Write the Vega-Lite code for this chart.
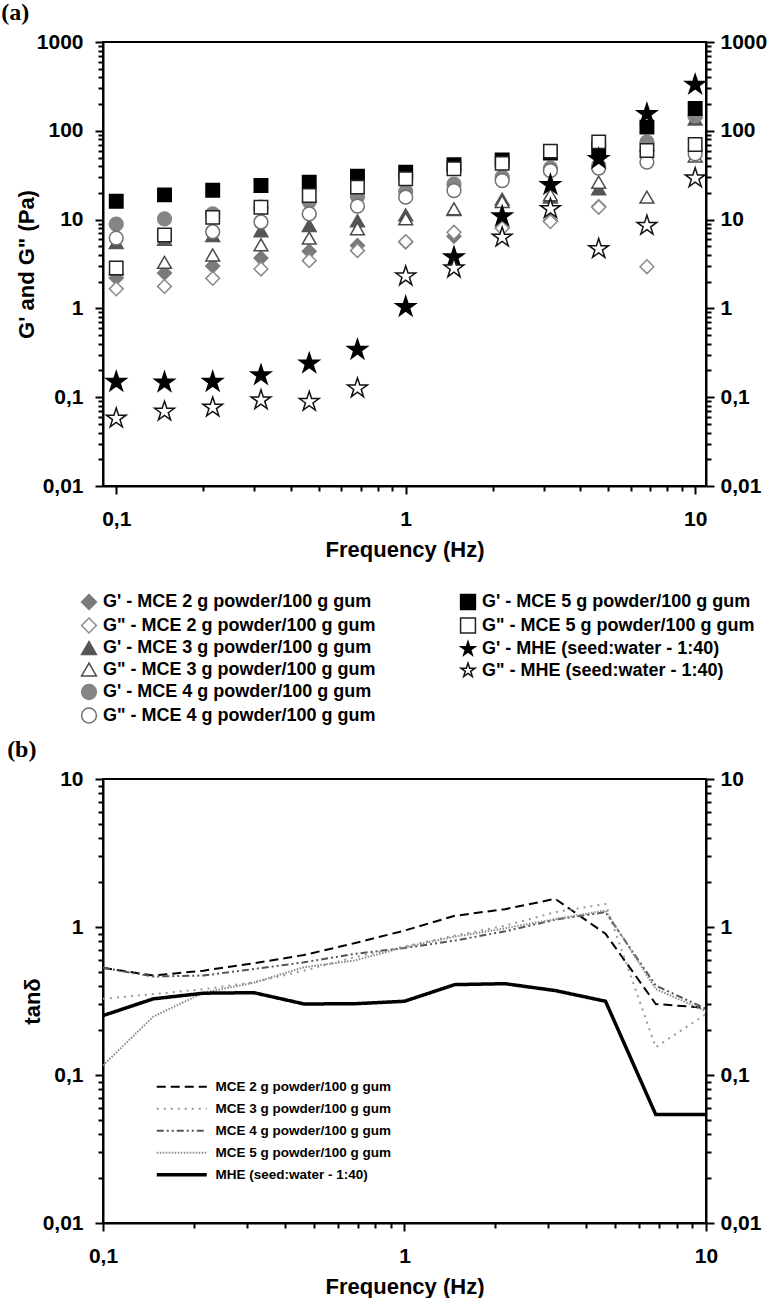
{
  "$schema": "https://vega.github.io/schema/vega-lite/v6.json",
  "padding": {"left": 0, "top": 0, "right": 0, "bottom": 0},
  "background": "white",
  "spacing": 10,
  "config": {
    "font": "Liberation Sans",
    "view": {"stroke": "black", "strokeWidth": 2},
    "axis": {
      "domainColor": "black", "domainWidth": 2, "tickColor": "black", "tickWidth": 2,
      "labelFont": "Liberation Sans", "labelFontWeight": "bold", "labelFontSize": 21, "labelColor": "black",
      "titleFont": "Liberation Sans", "titleFontWeight": "bold", "titleFontSize": 22, "titleColor": "black",
      "grid": false, "labelOverlap": false, "labelFlush": false, "labelBound": false
    },
    "title": {"font": "Liberation Serif", "fontSize": 24, "fontWeight": "bold", "color": "black", "anchor": "start", "frame": "bounds"}
  },
  "datasets": {
    "modA": [
      {"f": 0.1, "s": "G' - MCE 2 g powder/100 g gum", "v": 2.2},
      {"f": 0.1468, "s": "G' - MCE 2 g powder/100 g gum", "v": 2.5},
      {"f": 0.2154, "s": "G' - MCE 2 g powder/100 g gum", "v": 3.0},
      {"f": 0.3162, "s": "G' - MCE 2 g powder/100 g gum", "v": 3.7},
      {"f": 0.4642, "s": "G' - MCE 2 g powder/100 g gum", "v": 4.4},
      {"f": 0.6813, "s": "G' - MCE 2 g powder/100 g gum", "v": 5.1},
      {"f": 1, "s": "G' - MCE 2 g powder/100 g gum", "v": 5.6},
      {"f": 1.468, "s": "G' - MCE 2 g powder/100 g gum", "v": 6.5},
      {"f": 2.154, "s": "G' - MCE 2 g powder/100 g gum", "v": 8.2},
      {"f": 3.162, "s": "G' - MCE 2 g powder/100 g gum", "v": 9.7},
      {"f": 4.642, "s": "G' - MCE 2 g powder/100 g gum", "v": 14},
      {"f": 6.813, "s": "G' - MCE 2 g powder/100 g gum", "v": 60},
      {"f": 10, "s": "G' - MCE 2 g powder/100 g gum", "v": 140},
      {"f": 0.1, "s": "G\" - MCE 2 g powder/100 g gum", "v": 1.66},
      {"f": 0.1468, "s": "G\" - MCE 2 g powder/100 g gum", "v": 1.77},
      {"f": 0.2154, "s": "G\" - MCE 2 g powder/100 g gum", "v": 2.18},
      {"f": 0.3162, "s": "G\" - MCE 2 g powder/100 g gum", "v": 2.78},
      {"f": 0.4642, "s": "G\" - MCE 2 g powder/100 g gum", "v": 3.45},
      {"f": 0.6813, "s": "G\" - MCE 2 g powder/100 g gum", "v": 4.47},
      {"f": 1, "s": "G\" - MCE 2 g powder/100 g gum", "v": 5.65},
      {"f": 1.468, "s": "G\" - MCE 2 g powder/100 g gum", "v": 7.2},
      {"f": 2.154, "s": "G\" - MCE 2 g powder/100 g gum", "v": 8.0},
      {"f": 3.162, "s": "G\" - MCE 2 g powder/100 g gum", "v": 9.5},
      {"f": 4.642, "s": "G\" - MCE 2 g powder/100 g gum", "v": 13.8},
      {"f": 6.813, "s": "G\" - MCE 2 g powder/100 g gum", "v": 2.95},
      {"f": 10, "s": "G\" - MCE 2 g powder/100 g gum", "v": 60},
      {"f": 0.1, "s": "G' - MCE 3 g powder/100 g gum", "v": 5.5},
      {"f": 0.1468, "s": "G' - MCE 3 g powder/100 g gum", "v": 6.0},
      {"f": 0.2154, "s": "G' - MCE 3 g powder/100 g gum", "v": 6.6},
      {"f": 0.3162, "s": "G' - MCE 3 g powder/100 g gum", "v": 7.5},
      {"f": 0.4642, "s": "G' - MCE 3 g powder/100 g gum", "v": 8.6},
      {"f": 0.6813, "s": "G' - MCE 3 g powder/100 g gum", "v": 9.7},
      {"f": 1, "s": "G' - MCE 3 g powder/100 g gum", "v": 11.3},
      {"f": 1.468, "s": "G' - MCE 3 g powder/100 g gum", "v": 13},
      {"f": 2.154, "s": "G' - MCE 3 g powder/100 g gum", "v": 17},
      {"f": 3.162, "s": "G' - MCE 3 g powder/100 g gum", "v": 18},
      {"f": 4.642, "s": "G' - MCE 3 g powder/100 g gum", "v": 22.2},
      {"f": 6.813, "s": "G' - MCE 3 g powder/100 g gum", "v": 70},
      {"f": 10, "s": "G' - MCE 3 g powder/100 g gum", "v": 136},
      {"f": 0.1, "s": "G\" - MCE 3 g powder/100 g gum", "v": 2.8},
      {"f": 0.1468, "s": "G\" - MCE 3 g powder/100 g gum", "v": 3.3},
      {"f": 0.2154, "s": "G\" - MCE 3 g powder/100 g gum", "v": 4.0},
      {"f": 0.3162, "s": "G\" - MCE 3 g powder/100 g gum", "v": 5.2},
      {"f": 0.4642, "s": "G\" - MCE 3 g powder/100 g gum", "v": 6.2},
      {"f": 0.6813, "s": "G\" - MCE 3 g powder/100 g gum", "v": 7.9},
      {"f": 1, "s": "G\" - MCE 3 g powder/100 g gum", "v": 10.2},
      {"f": 1.468, "s": "G\" - MCE 3 g powder/100 g gum", "v": 13.2},
      {"f": 2.154, "s": "G\" - MCE 3 g powder/100 g gum", "v": 16},
      {"f": 3.162, "s": "G\" - MCE 3 g powder/100 g gum", "v": 19},
      {"f": 4.642, "s": "G\" - MCE 3 g powder/100 g gum", "v": 26.4},
      {"f": 6.813, "s": "G\" - MCE 3 g powder/100 g gum", "v": 17.9},
      {"f": 10, "s": "G\" - MCE 3 g powder/100 g gum", "v": 52},
      {"f": 0.1, "s": "G' - MCE 4 g powder/100 g gum", "v": 8.9},
      {"f": 0.1468, "s": "G' - MCE 4 g powder/100 g gum", "v": 10.2},
      {"f": 0.2154, "s": "G' - MCE 4 g powder/100 g gum", "v": 11.6},
      {"f": 0.3162, "s": "G' - MCE 4 g powder/100 g gum", "v": 13.8},
      {"f": 0.4642, "s": "G' - MCE 4 g powder/100 g gum", "v": 16.0},
      {"f": 0.6813, "s": "G' - MCE 4 g powder/100 g gum", "v": 18.2},
      {"f": 1, "s": "G' - MCE 4 g powder/100 g gum", "v": 20.7},
      {"f": 1.468, "s": "G' - MCE 4 g powder/100 g gum", "v": 25},
      {"f": 2.154, "s": "G' - MCE 4 g powder/100 g gum", "v": 30},
      {"f": 3.162, "s": "G' - MCE 4 g powder/100 g gum", "v": 38},
      {"f": 4.642, "s": "G' - MCE 4 g powder/100 g gum", "v": 40.6},
      {"f": 6.813, "s": "G' - MCE 4 g powder/100 g gum", "v": 74.6},
      {"f": 10, "s": "G' - MCE 4 g powder/100 g gum", "v": 147},
      {"f": 0.1, "s": "G\" - MCE 4 g powder/100 g gum", "v": 6.2},
      {"f": 0.1468, "s": "G\" - MCE 4 g powder/100 g gum", "v": 6.6},
      {"f": 0.2154, "s": "G\" - MCE 4 g powder/100 g gum", "v": 7.3},
      {"f": 0.3162, "s": "G\" - MCE 4 g powder/100 g gum", "v": 9.4},
      {"f": 0.4642, "s": "G\" - MCE 4 g powder/100 g gum", "v": 11.6},
      {"f": 0.6813, "s": "G\" - MCE 4 g powder/100 g gum", "v": 14.2},
      {"f": 1, "s": "G\" - MCE 4 g powder/100 g gum", "v": 17.9},
      {"f": 1.468, "s": "G\" - MCE 4 g powder/100 g gum", "v": 21.2},
      {"f": 2.154, "s": "G\" - MCE 4 g powder/100 g gum", "v": 27.5},
      {"f": 3.162, "s": "G\" - MCE 4 g powder/100 g gum", "v": 35.6},
      {"f": 4.642, "s": "G\" - MCE 4 g powder/100 g gum", "v": 38},
      {"f": 6.813, "s": "G\" - MCE 4 g powder/100 g gum", "v": 44.4},
      {"f": 10, "s": "G\" - MCE 4 g powder/100 g gum", "v": 55}
    ],
    "modB": [
      {"f": 0.1, "s": "G' - MCE 5 g powder/100 g gum", "v": 16.1},
      {"f": 0.1468, "s": "G' - MCE 5 g powder/100 g gum", "v": 19},
      {"f": 0.2154, "s": "G' - MCE 5 g powder/100 g gum", "v": 21.4},
      {"f": 0.3162, "s": "G' - MCE 5 g powder/100 g gum", "v": 24.2},
      {"f": 0.4642, "s": "G' - MCE 5 g powder/100 g gum", "v": 26.4},
      {"f": 0.6813, "s": "G' - MCE 5 g powder/100 g gum", "v": 30.8},
      {"f": 1, "s": "G' - MCE 5 g powder/100 g gum", "v": 34.2},
      {"f": 1.468, "s": "G' - MCE 5 g powder/100 g gum", "v": 41.4},
      {"f": 2.154, "s": "G' - MCE 5 g powder/100 g gum", "v": 47.1},
      {"f": 3.162, "s": "G' - MCE 5 g powder/100 g gum", "v": 56},
      {"f": 4.642, "s": "G' - MCE 5 g powder/100 g gum", "v": 63.8},
      {"f": 6.813, "s": "G' - MCE 5 g powder/100 g gum", "v": 110},
      {"f": 10, "s": "G' - MCE 5 g powder/100 g gum", "v": 178},
      {"f": 0.1, "s": "G\" - MCE 5 g powder/100 g gum", "v": 2.85},
      {"f": 0.1468, "s": "G\" - MCE 5 g powder/100 g gum", "v": 6.7},
      {"f": 0.2154, "s": "G\" - MCE 5 g powder/100 g gum", "v": 10.6},
      {"f": 0.3162, "s": "G\" - MCE 5 g powder/100 g gum", "v": 13.8},
      {"f": 0.4642, "s": "G\" - MCE 5 g powder/100 g gum", "v": 18.7},
      {"f": 0.6813, "s": "G\" - MCE 5 g powder/100 g gum", "v": 23.2},
      {"f": 1, "s": "G\" - MCE 5 g powder/100 g gum", "v": 28.8},
      {"f": 1.468, "s": "G\" - MCE 5 g powder/100 g gum", "v": 37.3},
      {"f": 2.154, "s": "G\" - MCE 5 g powder/100 g gum", "v": 43},
      {"f": 3.162, "s": "G\" - MCE 5 g powder/100 g gum", "v": 59},
      {"f": 4.642, "s": "G\" - MCE 5 g powder/100 g gum", "v": 75},
      {"f": 6.813, "s": "G\" - MCE 5 g powder/100 g gum", "v": 60},
      {"f": 10, "s": "G\" - MCE 5 g powder/100 g gum", "v": 70},
      {"f": 0.1, "s": "G' - MHE (seed:water - 1:40)", "v": 0.149},
      {"f": 0.1468, "s": "G' - MHE (seed:water - 1:40)", "v": 0.147},
      {"f": 0.2154, "s": "G' - MHE (seed:water - 1:40)", "v": 0.149},
      {"f": 0.3162, "s": "G' - MHE (seed:water - 1:40)", "v": 0.177},
      {"f": 0.4642, "s": "G' - MHE (seed:water - 1:40)", "v": 0.24},
      {"f": 0.6813, "s": "G' - MHE (seed:water - 1:40)", "v": 0.342},
      {"f": 1, "s": "G' - MHE (seed:water - 1:40)", "v": 1.04},
      {"f": 1.468, "s": "G' - MHE (seed:water - 1:40)", "v": 3.77},
      {"f": 2.154, "s": "G' - MHE (seed:water - 1:40)", "v": 10.9},
      {"f": 3.162, "s": "G' - MHE (seed:water - 1:40)", "v": 24.6},
      {"f": 4.642, "s": "G' - MHE (seed:water - 1:40)", "v": 48.3},
      {"f": 6.813, "s": "G' - MHE (seed:water - 1:40)", "v": 155},
      {"f": 10, "s": "G' - MHE (seed:water - 1:40)", "v": 330},
      {"f": 0.1, "s": "G\" - MHE (seed:water - 1:40)", "v": 0.0577},
      {"f": 0.1468, "s": "G\" - MHE (seed:water - 1:40)", "v": 0.069},
      {"f": 0.2154, "s": "G\" - MHE (seed:water - 1:40)", "v": 0.0767},
      {"f": 0.3162, "s": "G\" - MHE (seed:water - 1:40)", "v": 0.0927},
      {"f": 0.4642, "s": "G\" - MHE (seed:water - 1:40)", "v": 0.089},
      {"f": 0.6813, "s": "G\" - MHE (seed:water - 1:40)", "v": 0.126},
      {"f": 1, "s": "G\" - MHE (seed:water - 1:40)", "v": 2.3},
      {"f": 1.468, "s": "G\" - MHE (seed:water - 1:40)", "v": 2.83},
      {"f": 2.154, "s": "G\" - MHE (seed:water - 1:40)", "v": 6.3},
      {"f": 3.162, "s": "G\" - MHE (seed:water - 1:40)", "v": 13.2},
      {"f": 4.642, "s": "G\" - MHE (seed:water - 1:40)", "v": 4.68},
      {"f": 6.813, "s": "G\" - MHE (seed:water - 1:40)", "v": 8.55},
      {"f": 10, "s": "G\" - MHE (seed:water - 1:40)", "v": 29.3}
    ],
    "tand": [
      {"f": 0.1, "s": "MCE 2 g powder/100 g gum", "v": 0.53},
      {"f": 0.1468, "s": "MCE 2 g powder/100 g gum", "v": 0.47},
      {"f": 0.2154, "s": "MCE 2 g powder/100 g gum", "v": 0.507},
      {"f": 0.3162, "s": "MCE 2 g powder/100 g gum", "v": 0.569},
      {"f": 0.4642, "s": "MCE 2 g powder/100 g gum", "v": 0.647},
      {"f": 0.6813, "s": "MCE 2 g powder/100 g gum", "v": 0.776},
      {"f": 1, "s": "MCE 2 g powder/100 g gum", "v": 0.946},
      {"f": 1.468, "s": "MCE 2 g powder/100 g gum", "v": 1.19},
      {"f": 2.154, "s": "MCE 2 g powder/100 g gum", "v": 1.32},
      {"f": 3.162, "s": "MCE 2 g powder/100 g gum", "v": 1.55},
      {"f": 4.642, "s": "MCE 2 g powder/100 g gum", "v": 0.9},
      {"f": 6.813, "s": "MCE 2 g powder/100 g gum", "v": 0.302},
      {"f": 10, "s": "MCE 2 g powder/100 g gum", "v": 0.284},
      {"f": 0.1, "s": "MCE 3 g powder/100 g gum", "v": 0.327},
      {"f": 0.1468, "s": "MCE 3 g powder/100 g gum", "v": 0.352},
      {"f": 0.2154, "s": "MCE 3 g powder/100 g gum", "v": 0.38},
      {"f": 0.3162, "s": "MCE 3 g powder/100 g gum", "v": 0.423},
      {"f": 0.4642, "s": "MCE 3 g powder/100 g gum", "v": 0.507},
      {"f": 0.6813, "s": "MCE 3 g powder/100 g gum", "v": 0.624},
      {"f": 1, "s": "MCE 3 g powder/100 g gum", "v": 0.738},
      {"f": 1.468, "s": "MCE 3 g powder/100 g gum", "v": 0.875},
      {"f": 2.154, "s": "MCE 3 g powder/100 g gum", "v": 1.02},
      {"f": 3.162, "s": "MCE 3 g powder/100 g gum", "v": 1.26},
      {"f": 4.642, "s": "MCE 3 g powder/100 g gum", "v": 1.43},
      {"f": 6.813, "s": "MCE 3 g powder/100 g gum", "v": 0.154},
      {"f": 10, "s": "MCE 3 g powder/100 g gum", "v": 0.258},
      {"f": 0.1, "s": "MCE 4 g powder/100 g gum", "v": 0.53},
      {"f": 0.1468, "s": "MCE 4 g powder/100 g gum", "v": 0.463},
      {"f": 0.2154, "s": "MCE 4 g powder/100 g gum", "v": 0.47},
      {"f": 0.3162, "s": "MCE 4 g powder/100 g gum", "v": 0.52},
      {"f": 0.4642, "s": "MCE 4 g powder/100 g gum", "v": 0.577},
      {"f": 0.6813, "s": "MCE 4 g powder/100 g gum", "v": 0.658},
      {"f": 1, "s": "MCE 4 g powder/100 g gum", "v": 0.721},
      {"f": 1.468, "s": "MCE 4 g powder/100 g gum", "v": 0.809},
      {"f": 2.154, "s": "MCE 4 g powder/100 g gum", "v": 0.935},
      {"f": 3.162, "s": "MCE 4 g powder/100 g gum", "v": 1.12},
      {"f": 4.642, "s": "MCE 4 g powder/100 g gum", "v": 1.26},
      {"f": 6.813, "s": "MCE 4 g powder/100 g gum", "v": 0.402},
      {"f": 10, "s": "MCE 4 g powder/100 g gum", "v": 0.28},
      {"f": 0.1, "s": "MCE 5 g powder/100 g gum", "v": 0.116},
      {"f": 0.1468, "s": "MCE 5 g powder/100 g gum", "v": 0.248},
      {"f": 0.2154, "s": "MCE 5 g powder/100 g gum", "v": 0.36},
      {"f": 0.3162, "s": "MCE 5 g powder/100 g gum", "v": 0.42},
      {"f": 0.4642, "s": "MCE 5 g powder/100 g gum", "v": 0.535},
      {"f": 0.6813, "s": "MCE 5 g powder/100 g gum", "v": 0.593},
      {"f": 1, "s": "MCE 5 g powder/100 g gum", "v": 0.73},
      {"f": 1.468, "s": "MCE 5 g powder/100 g gum", "v": 0.86},
      {"f": 2.154, "s": "MCE 5 g powder/100 g gum", "v": 0.98},
      {"f": 3.162, "s": "MCE 5 g powder/100 g gum", "v": 1.13},
      {"f": 4.642, "s": "MCE 5 g powder/100 g gum", "v": 1.29},
      {"f": 6.813, "s": "MCE 5 g powder/100 g gum", "v": 0.381},
      {"f": 10, "s": "MCE 5 g powder/100 g gum", "v": 0.27},
      {"f": 0.1, "s": "MHE (seed:water - 1:40)", "v": 0.252},
      {"f": 0.1468, "s": "MHE (seed:water - 1:40)", "v": 0.327},
      {"f": 0.2154, "s": "MHE (seed:water - 1:40)", "v": 0.357},
      {"f": 0.3162, "s": "MHE (seed:water - 1:40)", "v": 0.36},
      {"f": 0.4642, "s": "MHE (seed:water - 1:40)", "v": 0.302},
      {"f": 0.6813, "s": "MHE (seed:water - 1:40)", "v": 0.303},
      {"f": 1, "s": "MHE (seed:water - 1:40)", "v": 0.315},
      {"f": 1.468, "s": "MHE (seed:water - 1:40)", "v": 0.408},
      {"f": 2.154, "s": "MHE (seed:water - 1:40)", "v": 0.414},
      {"f": 3.162, "s": "MHE (seed:water - 1:40)", "v": 0.372},
      {"f": 4.642, "s": "MHE (seed:water - 1:40)", "v": 0.315},
      {"f": 6.813, "s": "MHE (seed:water - 1:40)", "v": 0.054},
      {"f": 10, "s": "MHE (seed:water - 1:40)", "v": 0.054}
    ]
  },
  "resolve": {"scale": {"shape": "independent", "fill": "independent", "stroke": "independent", "color": "independent", "strokeDash": "independent"}},
  "vconcat": [
    {
      "width": 603, "height": 444,
      "title": {"text": "(a)", "offset": 6, "dx": -14},
      "layer": [
        {
          "data": {"name": "modA"},
          "mark": {"type": "point", "filled": true, "strokeWidth": 1.5, "opacity": 1, "size": 190},
          "encoding": {
            "x": {"field": "f", "type": "quantitative", "scale": {"type": "log", "domain": [0.09, 10.9], "nice": false},
              "axis": {"title": "Frequency (Hz)", "values": [0.1,0.2,0.3,0.4,0.5,0.6,0.7,0.8,0.9,1,2,3,4,5,6,7,8,9,10],
                "labelExpr": "datum.value == 0.1 ? '0,1' : datum.value == 1 ? '1' : datum.value == 10 ? '10' : ''",
                "tickSize": {"condition": {"test": "datum.value == 0.1 || datum.value == 1 || datum.value == 10", "value": 8}, "value": 5},
                "labelPadding": 14, "titlePadding": 10}},
            "y": {"field": "v", "type": "quantitative", "scale": {"type": "log", "domain": [0.01, 1000], "nice": false},
              "axis": {"orient": "left", "title": "G' and G\" (Pa)",
                "values": [0.01,0.02,0.03,0.04,0.05,0.06,0.07,0.08,0.09,0.1,0.2,0.3,0.4,0.5,0.6,0.7,0.8,0.9,1,2,3,4,5,6,7,8,9,10,20,30,40,50,60,70,80,90,100,200,300,400,500,600,700,800,900,1000],
                "labelExpr": "datum.value == 0.01 ? '0,01' : datum.value == 0.1 ? '0,1' : (datum.value == 1 || datum.value == 10 || datum.value == 100 || datum.value == 1000) ? '' + datum.value : ''",
                "tickSize": {"condition": {"test": "datum.value == 0.01 || datum.value == 0.1 || datum.value == 1 || datum.value == 10 || datum.value == 100 || datum.value == 1000", "value": 8}, "value": 5},
                "labelPadding": 12, "titlePadding": -2}},
            "shape": {"field": "s", "type": "nominal",
              "scale": {"domain": ["G' - MCE 2 g powder/100 g gum", "G\" - MCE 2 g powder/100 g gum", "G' - MCE 3 g powder/100 g gum", "G\" - MCE 3 g powder/100 g gum", "G' - MCE 4 g powder/100 g gum", "G\" - MCE 4 g powder/100 g gum"],
                "range": ["diamond", "diamond", "triangle-up", "triangle-up", "circle", "circle"]},
              "legend": {"orient": "none", "legendX": -23, "legendY": 551, "title": null, "labelFont": "Liberation Sans", "labelFontWeight": "bold", "labelFontSize": 18, "labelColor": "black", "symbolSize": 220, "symbolStrokeWidth": 1.5, "rowPadding": 1.5, "labelOffset": 5, "labelLimit": 500, "padding": 0}},
            "fill": {"field": "s", "type": "nominal",
              "scale": {"domain": ["G' - MCE 2 g powder/100 g gum", "G\" - MCE 2 g powder/100 g gum", "G' - MCE 3 g powder/100 g gum", "G\" - MCE 3 g powder/100 g gum", "G' - MCE 4 g powder/100 g gum", "G\" - MCE 4 g powder/100 g gum"],
                "range": ["#7a7a7a", "#ffffff", "#555555", "#ffffff", "#858585", "#ffffff"]},
              "legend": {"orient": "none", "legendX": -23, "legendY": 551, "title": null, "labelFont": "Liberation Sans", "labelFontWeight": "bold", "labelFontSize": 18, "labelColor": "black", "symbolSize": 220, "symbolStrokeWidth": 1.5, "rowPadding": 1.5, "labelOffset": 5, "labelLimit": 500, "padding": 0}},
            "stroke": {"field": "s", "type": "nominal",
              "scale": {"domain": ["G' - MCE 2 g powder/100 g gum", "G\" - MCE 2 g powder/100 g gum", "G' - MCE 3 g powder/100 g gum", "G\" - MCE 3 g powder/100 g gum", "G' - MCE 4 g powder/100 g gum", "G\" - MCE 4 g powder/100 g gum"],
                "range": ["#7a7a7a", "#8a8a8a", "#555555", "#4a4a4a", "#858585", "#707070"]},
              "legend": {"orient": "none", "legendX": -23, "legendY": 551, "title": null, "labelFont": "Liberation Sans", "labelFontWeight": "bold", "labelFontSize": 18, "labelColor": "black", "symbolSize": 220, "symbolStrokeWidth": 1.5, "rowPadding": 1.5, "labelOffset": 5, "labelLimit": 500, "padding": 0}}
          }
        },
        {
          "data": {"name": "modB"},
          "mark": {"type": "point", "filled": true, "strokeWidth": 1.5, "opacity": 1},
          "encoding": {
            "x": {"field": "f", "type": "quantitative", "scale": {"type": "log", "domain": [0.09, 10.9], "nice": false},
              "axis": {"title": "Frequency (Hz)", "values": [0.1,0.2,0.3,0.4,0.5,0.6,0.7,0.8,0.9,1,2,3,4,5,6,7,8,9,10],
                "labelExpr": "datum.value == 0.1 ? '0,1' : datum.value == 1 ? '1' : datum.value == 10 ? '10' : ''",
                "tickSize": {"condition": {"test": "datum.value == 0.1 || datum.value == 1 || datum.value == 10", "value": 8}, "value": 5},
                "labelPadding": 14, "titlePadding": 10}},
            "y": {"field": "v", "type": "quantitative", "scale": {"type": "log", "domain": [0.01, 1000], "nice": false},
              "axis": {"orient": "right", "title": null,
                "values": [0.01,0.02,0.03,0.04,0.05,0.06,0.07,0.08,0.09,0.1,0.2,0.3,0.4,0.5,0.6,0.7,0.8,0.9,1,2,3,4,5,6,7,8,9,10,20,30,40,50,60,70,80,90,100,200,300,400,500,600,700,800,900,1000],
                "labelExpr": "datum.value == 0.01 ? '0,01' : datum.value == 0.1 ? '0,1' : (datum.value == 1 || datum.value == 10 || datum.value == 100 || datum.value == 1000) ? '' + datum.value : ''",
                "tickSize": {"condition": {"test": "datum.value == 0.01 || datum.value == 0.1 || datum.value == 1 || datum.value == 10 || datum.value == 100 || datum.value == 1000", "value": 8}, "value": 5},
                "labelPadding": 6}},
            "size": {"condition": {"test": "indexof(datum.s, 'MHE') >= 0", "value": 430}, "value": 180},
            "shape": {"field": "s", "type": "nominal",
              "scale": {"domain": ["G' - MCE 5 g powder/100 g gum", "G\" - MCE 5 g powder/100 g gum", "G' - MHE (seed:water - 1:40)", "G\" - MHE (seed:water - 1:40)"],
                "range": ["square", "square", "M0,-1L0.225,-0.309L0.951,-0.309L0.363,0.118L0.588,0.809L0,0.382L-0.588,0.809L-0.363,0.118L-0.951,-0.309L-0.225,-0.309Z", "M0,-1L0.225,-0.309L0.951,-0.309L0.363,0.118L0.588,0.809L0,0.382L-0.588,0.809L-0.363,0.118L-0.951,-0.309L-0.225,-0.309Z"]},
              "legend": {"orient": "none", "legendX": 356, "legendY": 551, "title": null, "labelFont": "Liberation Sans", "labelFontWeight": "bold", "labelFontSize": 18, "labelColor": "black", "symbolSize": 220, "symbolStrokeWidth": 1.5, "rowPadding": 1.5, "labelOffset": 5, "labelLimit": 500, "padding": 0}},
            "fill": {"field": "s", "type": "nominal",
              "scale": {"domain": ["G' - MCE 5 g powder/100 g gum", "G\" - MCE 5 g powder/100 g gum", "G' - MHE (seed:water - 1:40)", "G\" - MHE (seed:water - 1:40)"],
                "range": ["#000000", "#ffffff", "#000000", "#ffffff"]},
              "legend": {"orient": "none", "legendX": 356, "legendY": 551, "title": null, "labelFont": "Liberation Sans", "labelFontWeight": "bold", "labelFontSize": 18, "labelColor": "black", "symbolSize": 220, "symbolStrokeWidth": 1.5, "rowPadding": 1.5, "labelOffset": 5, "labelLimit": 500, "padding": 0}},
            "stroke": {"field": "s", "type": "nominal",
              "scale": {"domain": ["G' - MCE 5 g powder/100 g gum", "G\" - MCE 5 g powder/100 g gum", "G' - MHE (seed:water - 1:40)", "G\" - MHE (seed:water - 1:40)"],
                "range": ["#000000", "#222222", "#000000", "#111111"]},
              "legend": {"orient": "none", "legendX": 356, "legendY": 551, "title": null, "labelFont": "Liberation Sans", "labelFontWeight": "bold", "labelFontSize": 18, "labelColor": "black", "symbolSize": 220, "symbolStrokeWidth": 1.5, "rowPadding": 1.5, "labelOffset": 5, "labelLimit": 500, "padding": 0}}
          }
        }
      ],
      "resolve": {"scale": {"shape": "independent", "fill": "independent", "stroke": "independent"}, "axis": {"y": "independent"}}
    },
    {
      "width": 603, "height": 444,
      "title": {"text": "(b)", "offset": 6, "dx": -14},
      "data": {"name": "tand"},
      "layer": [
        {
          "mark": {"type": "line"},
          "encoding": {
            "x": {"field": "f", "type": "quantitative", "scale": {"type": "log", "domain": [0.1, 10], "nice": false},
              "axis": {"title": "Frequency (Hz)", "values": [0.1,0.2,0.3,0.4,0.5,0.6,0.7,0.8,0.9,1,2,3,4,5,6,7,8,9,10],
                "labelExpr": "datum.value == 0.1 ? '0,1' : datum.value == 1 ? '1' : datum.value == 10 ? '10' : ''",
                "tickSize": {"condition": {"test": "datum.value == 0.1 || datum.value == 1 || datum.value == 10", "value": 8}, "value": 5},
                "labelPadding": 14, "titlePadding": 10}},
            "y": {"field": "v", "type": "quantitative", "scale": {"type": "log", "domain": [0.01, 10], "nice": false},
              "axis": {"orient": "left", "title": "tanδ",
                "values": [0.01,0.02,0.03,0.04,0.05,0.06,0.07,0.08,0.09,0.1,0.2,0.3,0.4,0.5,0.6,0.7,0.8,0.9,1,2,3,4,5,6,7,8,9,10],
                "labelExpr": "datum.value == 0.01 ? '0,01' : datum.value == 0.1 ? '0,1' : (datum.value == 1 || datum.value == 10) ? '' + datum.value : ''",
                "tickSize": {"condition": {"test": "datum.value == 0.01 || datum.value == 0.1 || datum.value == 1 || datum.value == 10", "value": 8}, "value": 5},
                "labelPadding": 12, "titlePadding": -2}},
            "color": {"field": "s", "type": "nominal",
              "scale": {"domain": ["MCE 2 g powder/100 g gum", "MCE 3 g powder/100 g gum", "MCE 4 g powder/100 g gum", "MCE 5 g powder/100 g gum", "MHE (seed:water - 1:40)"],
                "range": ["#000000", "#999999", "#555555", "#8a8a8a", "#000000"]},
              "legend": {"orient": "none", "legendX": 72, "legendY": 301, "title": null, "symbolType": "M-5,0H5", "symbolSize": 100, "labelFont": "Liberation Sans", "labelFontWeight": "bold", "labelFontSize": 13.5, "labelColor": "black", "labelOffset": 27, "rowPadding": 7, "padding": 0, "labelLimit": 400,
                "encode": {"symbols": {"update": {"strokeWidth": {"signal": "datum.value == 'MHE (seed:water - 1:40)' ? 3.5 : 2"}}}}}},
            "strokeDash": {"field": "s", "type": "nominal",
              "scale": {"domain": ["MCE 2 g powder/100 g gum", "MCE 3 g powder/100 g gum", "MCE 4 g powder/100 g gum", "MCE 5 g powder/100 g gum", "MHE (seed:water - 1:40)"],
                "range": [[9, 5], [2, 5], [7, 3, 2, 3, 2, 3], [1.5, 1.5], [1, 0]]},
              "legend": {"orient": "none", "legendX": 72, "legendY": 301, "title": null, "symbolType": "M-5,0H5", "symbolSize": 100, "labelFont": "Liberation Sans", "labelFontWeight": "bold", "labelFontSize": 13.5, "labelColor": "black", "labelOffset": 27, "rowPadding": 7, "padding": 0, "labelLimit": 400,
                "encode": {"symbols": {"update": {"strokeWidth": {"signal": "datum.value == 'MHE (seed:water - 1:40)' ? 3.5 : 2"}}}}}},
            "strokeWidth": {"condition": {"test": "datum.s == 'MHE (seed:water - 1:40)'", "value": 3.5}, "value": 2}
          }
        },
        {
          "mark": {"type": "line", "opacity": 0},
          "encoding": {
            "x": {"field": "f", "type": "quantitative", "scale": {"type": "log", "domain": [0.1, 10], "nice": false},
              "axis": {"title": "Frequency (Hz)", "values": [0.1,0.2,0.3,0.4,0.5,0.6,0.7,0.8,0.9,1,2,3,4,5,6,7,8,9,10],
                "labelExpr": "datum.value == 0.1 ? '0,1' : datum.value == 1 ? '1' : datum.value == 10 ? '10' : ''",
                "tickSize": {"condition": {"test": "datum.value == 0.1 || datum.value == 1 || datum.value == 10", "value": 8}, "value": 5},
                "labelPadding": 14, "titlePadding": 10}},
            "y": {"field": "v", "type": "quantitative", "scale": {"type": "log", "domain": [0.01, 10], "nice": false},
              "axis": {"orient": "right", "title": null,
                "values": [0.01,0.02,0.03,0.04,0.05,0.06,0.07,0.08,0.09,0.1,0.2,0.3,0.4,0.5,0.6,0.7,0.8,0.9,1,2,3,4,5,6,7,8,9,10],
                "labelExpr": "datum.value == 0.01 ? '0,01' : datum.value == 0.1 ? '0,1' : (datum.value == 1 || datum.value == 10) ? '' + datum.value : ''",
                "tickSize": {"condition": {"test": "datum.value == 0.01 || datum.value == 0.1 || datum.value == 1 || datum.value == 10", "value": 8}, "value": 5},
                "labelPadding": 6}},
            "detail": {"field": "s", "type": "nominal"}
          }
        }
      ],
      "resolve": {"axis": {"y": "independent"}}
    }
  ]
}
